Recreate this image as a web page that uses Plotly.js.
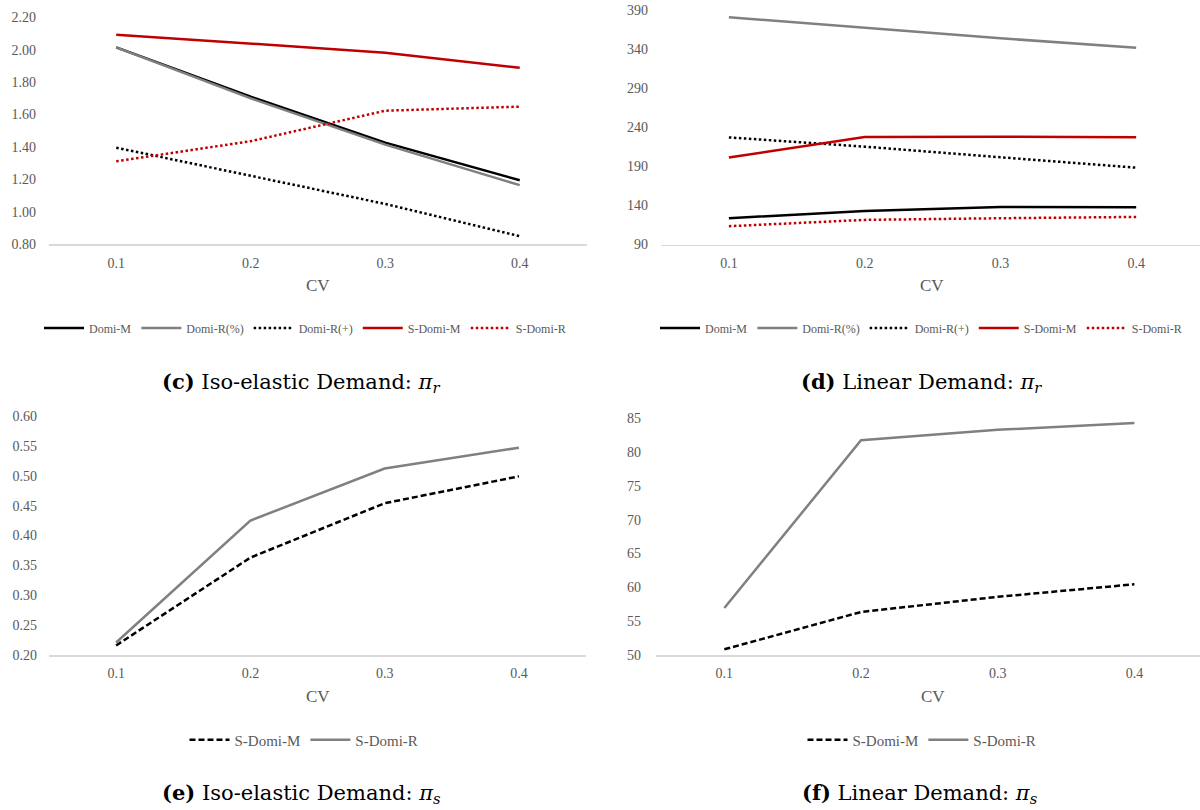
<!DOCTYPE html>
<html>
<head>
<meta charset="utf-8">
<script src="https://cdn.plot.ly/plotly-3.0.1.min.js"></script>
<style>
  html, body { margin: 0; padding: 0; background: #ffffff; }
  #chart { width: 1200px; height: 810px; }
</style>
</head>
<body>
<div id="chart"></div>
<script>
// ---- data ----
const cv = ['0.1', '0.2', '0.3', '0.4'];

// (c) Iso-elastic demand: pi_r
const isoR_domiM    = [2.015, 1.71, 1.427, 1.195];
const isoR_domiRpct = [2.015, 1.70, 1.415, 1.165];
const isoR_domiRplus= [1.396, 1.224, 1.049, 0.850];
const isoR_sdomiM   = [2.093, 2.037, 1.982, 1.889];
const isoR_sdomiR   = [1.312, 1.436, 1.624, 1.649];

// (d) Linear demand: pi_r
const linR_domiM    = [123.6, 132.9, 138.0, 137.7];
const linR_domiRpct = [380.7, 367.0, 353.8, 341.8];
const linR_domiRplus= [227.0, 215.2, 201.6, 188.3];
const linR_sdomiM   = [201.2, 227.6, 228.0, 227.3];
const linR_sdomiR   = [113.4, 121.5, 123.6, 125.3];

// (e) Iso-elastic demand: pi_s
const isoS_sdomiM = [0.216, 0.363, 0.454, 0.499];
const isoS_sdomiR = [0.221, 0.425, 0.512, 0.547];

// (f) Linear demand: pi_s
const linS_sdomiM = [50.84, 56.36, 58.6, 60.46];
const linS_sdomiR = [56.95, 81.76, 83.3, 84.3];

const ticksC = [0.80, 1.00, 1.20, 1.40, 1.60, 1.80, 2.00, 2.20];
const ticksD = [90, 140, 190, 240, 290, 340, 390];
const ticksE = [0.20, 0.25, 0.30, 0.35, 0.40, 0.45, 0.50, 0.55, 0.60];
const ticksF = [50, 55, 60, 65, 70, 75, 80, 85];

const captions = [
  '<b>(c)</b> Iso-elastic Demand: <i>π<sub>r</sub></i>',
  '<b>(d)</b> Linear Demand: <i>π<sub>r</sub></i>',
  '<b>(e)</b> Iso-elastic Demand: <i>π<sub>s</sub></i>',
  '<b>(f)</b> Linear Demand: <i>π<sub>s</sub></i>'
];

// ---- styles ----
const BLACK = '#000000', GRAY = '#808080', RED = '#C00000';
const DOT = '2.5px,2.5px';
const DASH = '6px,3px';
const W = 2.5;
const H = 810, WID = 1200;
const FONT = 'Liberation Serif';
const CAPFONT = 'DejaVu Serif';
const TXT = '#595959';

function tr(y, name, color, dash, xa, ya, leg) {
  return {
    type: 'scatter', mode: 'lines', x: cv, y: y, name: name,
    xaxis: xa, yaxis: ya, legend: leg,
    line: { color: color, width: W, dash: dash },
    hoverinfo: 'x+y+name'
  };
}

const data = [
  tr(isoR_domiM, 'Domi-M', BLACK, 'solid', 'x', 'y', 'legend'),
  tr(isoR_domiRpct, 'Domi-R(%)', GRAY, 'solid', 'x', 'y', 'legend'),
  tr(isoR_domiRplus, 'Domi-R(+)', BLACK, DOT, 'x', 'y', 'legend'),
  tr(isoR_sdomiM, 'S-Domi-M', RED, 'solid', 'x', 'y', 'legend'),
  tr(isoR_sdomiR, 'S-Domi-R', RED, DOT, 'x', 'y', 'legend'),

  tr(linR_domiM, 'Domi-M', BLACK, 'solid', 'x2', 'y2', 'legend2'),
  tr(linR_domiRpct, 'Domi-R(%)', GRAY, 'solid', 'x2', 'y2', 'legend2'),
  tr(linR_domiRplus, 'Domi-R(+)', BLACK, DOT, 'x2', 'y2', 'legend2'),
  tr(linR_sdomiM, 'S-Domi-M', RED, 'solid', 'x2', 'y2', 'legend2'),
  tr(linR_sdomiR, 'S-Domi-R', RED, DOT, 'x2', 'y2', 'legend2'),

  tr(isoS_sdomiM, 'S-Domi-M', BLACK, DASH, 'x3', 'y3', 'legend3'),
  tr(isoS_sdomiR, 'S-Domi-R', GRAY, 'solid', 'x3', 'y3', 'legend3'),

  tr(linS_sdomiM, 'S-Domi-M', BLACK, DASH, 'x4', 'y4', 'legend4'),
  tr(linS_sdomiR, 'S-Domi-R', GRAY, 'solid', 'x4', 'y4', 'legend4')
];

function px2x(p) { return p / WID; }
function px2y(p) { return 1 - p / H; }

function xax(l, r, rmax, anchor) {
  return {
    type: 'category', domain: [px2x(l), px2x(r)], range: [-0.5, rmax],
    anchor: anchor, showline: true, linecolor: '#d9d9d9', linewidth: 1.5,
    showgrid: false, zeroline: false, ticks: '', ticklabelstandoff: 5,
    tickfont: { family: FONT, size: 14, color: TXT }, fixedrange: true
  };
}
function yax(top, bot, rng, tv, fmt, anchor, standoff) {
  return {
    domain: [px2y(bot), px2y(top)], range: rng, tickvals: tv, tickformat: fmt,
    anchor: anchor, showline: false, showgrid: false, zeroline: false, ticks: '',
    ticklabelstandoff: standoff,
    tickfont: { family: FONT, size: 14, color: TXT }, fixedrange: true
  };
}
function legend(xc, yc, size) {
  return {
    orientation: 'h', x: px2x(xc), y: px2y(yc), xanchor: 'center', yanchor: 'middle',
    font: { family: FONT, size: size, color: TXT }, bgcolor: 'rgba(0,0,0,0)',
    itemwidth: 40, traceorder: 'normal'
  };
}
function ann(text, xc, yc, size, color, fam) {
  return { text: text, xref: 'paper', yref: 'paper', x: px2x(xc), y: px2y(yc),
    xanchor: 'center', yanchor: 'middle', showarrow: false,
    font: { family: fam, size: size, color: color } };
}

const layout = {
  width: WID, height: H,
  margin: { l: 0, r: 0, t: 0, b: 0 },
  paper_bgcolor: '#ffffff', plot_bgcolor: '#ffffff',
  font: { family: FONT, color: TXT, size: 14 },
  showlegend: true,
  xaxis:  xax(49, 587, 3.5, 'y'),
  xaxis2: xax(661, 1200, 3.47, 'y2'),
  xaxis3: xax(49, 586, 3.5, 'y3'),
  xaxis4: xax(656, 1200, 3.48, 'y4'),
  yaxis:  yax(17.3, 244.3, [0.8, 2.2], ticksC, '.2f', 'x', 12),
  yaxis2: yax(10, 244.5, [90, 390], ticksD, 'd', 'x2', 12),
  yaxis3: yax(416, 655, [0.2, 0.6], ticksE, '.2f', 'x3', 11),
  yaxis4: yax(418.3, 655, [50, 85], ticksF, 'd', 'x4', 14),
  legend:  legend(305, 328, 12),
  legend2: legend(921, 328, 12),
  legend3: legend(304, 740, 15),
  legend4: legend(922, 740, 15),
  annotations: [
    ann('CV', 318, 285, 17, TXT, FONT),
    ann('CV', 932, 285, 17, TXT, FONT),
    ann('CV', 318, 696, 17, TXT, FONT),
    ann('CV', 933, 696, 17, TXT, FONT),
    ann(captions[0], 301, 383, 21, '#000000', CAPFONT),
    ann(captions[1], 921, 383, 21, '#000000', CAPFONT),
    ann(captions[2], 301, 793, 21, '#000000', CAPFONT),
    ann(captions[3], 920, 793, 21, '#000000', CAPFONT)
  ]
};

Plotly.newPlot('chart', data, layout, { displayModeBar: false, staticPlot: true });
</script>
</body>
</html>
